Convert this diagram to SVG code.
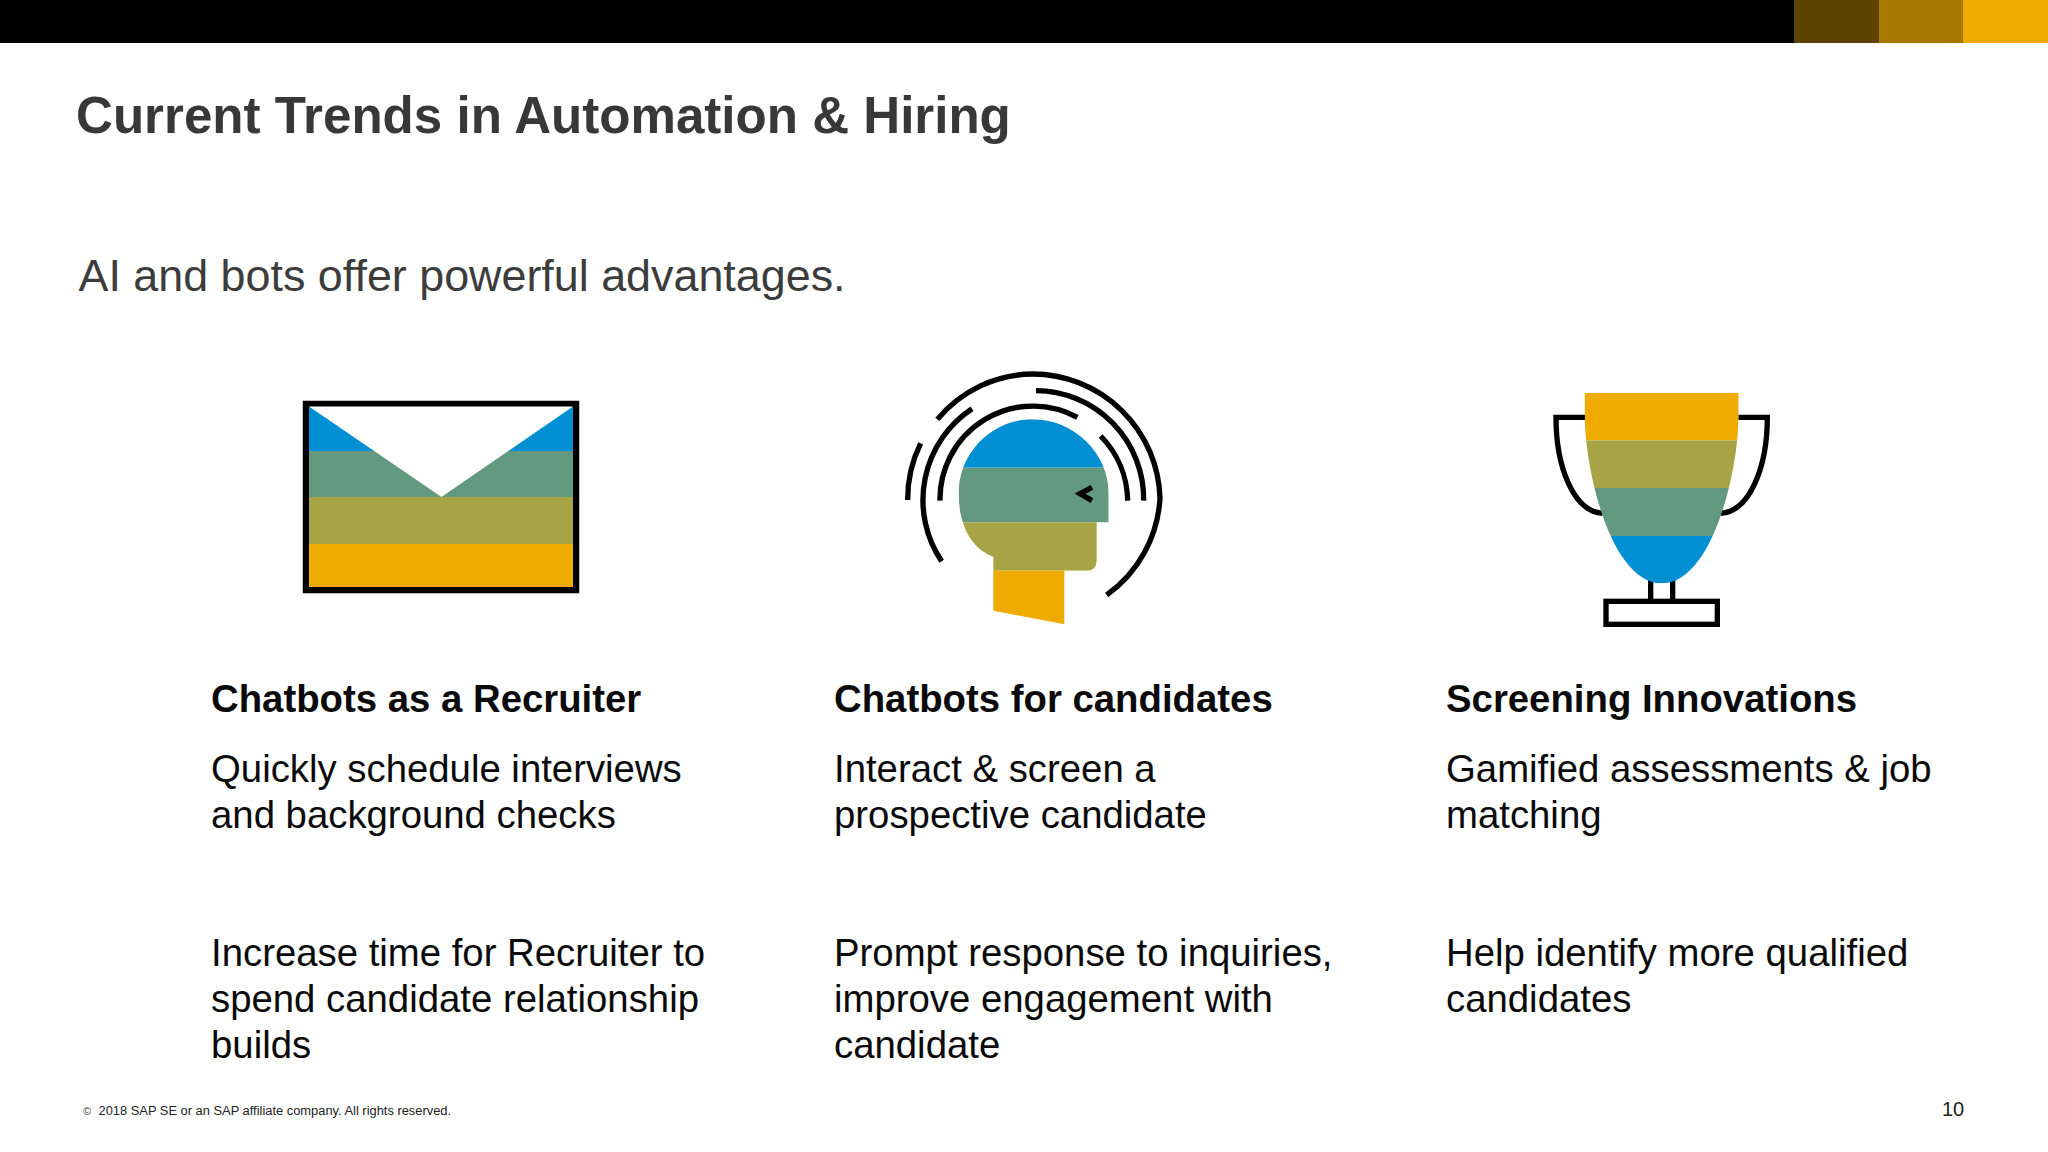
<svg xmlns="http://www.w3.org/2000/svg" width="2048" height="1152" viewBox="0 0 2048 1152">
<style>
text{font-family:"Liberation Sans",Arial,sans-serif}
.t{font-size:51.100px;font-weight:700;fill:#383838}
.s{font-size:44.850px;fill:#3c3c3c}
.h{font-size:38.350px;font-weight:700;fill:#0a0a0a}
.b{font-size:38.350px;fill:#0a0a0a}
.f{font-size:12.880px;fill:#222}
.k{fill:none;stroke:#000;stroke-width:16}
</style>
<defs>
<clipPath id="hc"><path d="M340 590C270 565 236 490 236 400C236 278 336 178 458 178C580 178 686 278 686 400V487H650V600Q650 632 620 632H553V793L340 752Z"/></clipPath>
<clipPath id="cc"><path d="M164 38H626V110C622 300 540 610 395 610C250 610 168 300 164 110Z"/></clipPath>
</defs>
<rect width="2048" height="1152" fill="#fff"/>
<g id="topbar"><rect width="1794" height="43" fill="#000"/><rect x="1794" width="85" height="43" fill="#5c4400"/><rect x="1879" width="84" height="43" fill="#a87900"/><rect x="1963" width="85" height="43" fill="#f0ab00"/></g>
<text class="t" x="76" y="133">Current Trends in Automation &amp; Hiring</text>
<text class="s" x="78.500" y="291">AI and bots offer powerful advantages.</text>
<g id="envelope">
<rect x="306" y="404" width="270" height="186" fill="none" stroke="#000" stroke-width="6.500"/>
<rect x="309" y="407" width="264" height="44" fill="#008fd3"/>
<rect x="309" y="451" width="264" height="46" fill="#639a7f"/>
<rect x="309" y="497" width="264" height="47" fill="#a7a446"/>
<rect x="309" y="544" width="264" height="43" fill="#f0ab00"/>
<path d="M309 406.500H573L441.500 497Z" fill="#fff"/>
</g>
<g id="head" transform="translate(880 360) scale(.33333)">
<g clip-path="url(#hc)">
<rect x="200" y="170" width="500" height="153" fill="#008fd3"/>
<rect x="200" y="323" width="500" height="164" fill="#639a7f"/>
<rect x="200" y="487" width="500" height="145" fill="#a7a446"/>
<rect x="200" y="632" width="500" height="170" fill="#f0ab00"/>
</g>
<path class="k" d="M172 178A375 375 0 0 1 458 42A383 383 0 0 1 840 415A383 383 0 0 1 680 705"/>
<path class="k" d="M468 92A325 325 0 0 1 791 422"/>
<path class="k" d="M180 422A279 279 0 0 1 592 172"/>
<path class="k" d="M662 228A284 284 0 0 1 743 422"/>
<path class="k" d="M276 146A329 329 0 0 0 185 604"/>
<path class="k" d="M83 420A375 375 0 0 1 122 250"/>
<path class="k" d="M636 382L600 401L636 422"/>
</g>
<g id="trophy" transform="translate(1530 380) scale(.33333)">
<path class="k" d="M218 400C130 395 78 260 78 112H165M572 400C660 395 712 260 712 112H625"/>
<path class="k" d="M362 600V664M428 600V664"/>
<rect class="k" x="228" y="664" width="334" height="69"/>
<g clip-path="url(#cc)">
<rect x="150" y="30" width="490" height="151" fill="#f0ab00"/>
<rect x="150" y="181" width="490" height="143" fill="#a7a446"/>
<rect x="150" y="324" width="490" height="144" fill="#639a7f"/>
<rect x="150" y="468" width="490" height="150" fill="#008fd3"/>
</g>
</g>
<g id="col1">
<text class="h" x="211" y="712">Chatbots as a Recruiter</text>
<text class="b" x="211" y="782">Quickly schedule interviews</text>
<text class="b" x="211" y="828">and background checks</text>
<text class="b" x="211" y="966">Increase time for Recruiter to</text>
<text class="b" x="211" y="1012">spend candidate relationship</text>
<text class="b" x="211" y="1058">builds</text>
</g>
<g id="col2">
<text class="h" x="834" y="712">Chatbots for candidates</text>
<text class="b" x="834" y="782">Interact &amp; screen a</text>
<text class="b" x="834" y="828">prospective candidate</text>
<text class="b" x="834" y="966">Prompt response to inquiries,</text>
<text class="b" x="834" y="1012">improve engagement with</text>
<text class="b" x="834" y="1058">candidate</text>
</g>
<g id="col3">
<text class="h" x="1446" y="712">Screening Innovations</text>
<text class="b" x="1446" y="782">Gamified assessments &amp; job</text>
<text class="b" x="1446" y="828">matching</text>
<text class="b" x="1446" y="966">Help identify more qualified</text>
<text class="b" x="1446" y="1012">candidates</text>
</g>
<text x="83" y="1115" style="font-size:11px" fill="#444">©</text>
<text class="f" x="98.500" y="1115">2018 SAP SE or an SAP affiliate company. All rights reserved.</text>
<text x="1942" y="1116" font-size="20" fill="#222">10</text>
</svg>
